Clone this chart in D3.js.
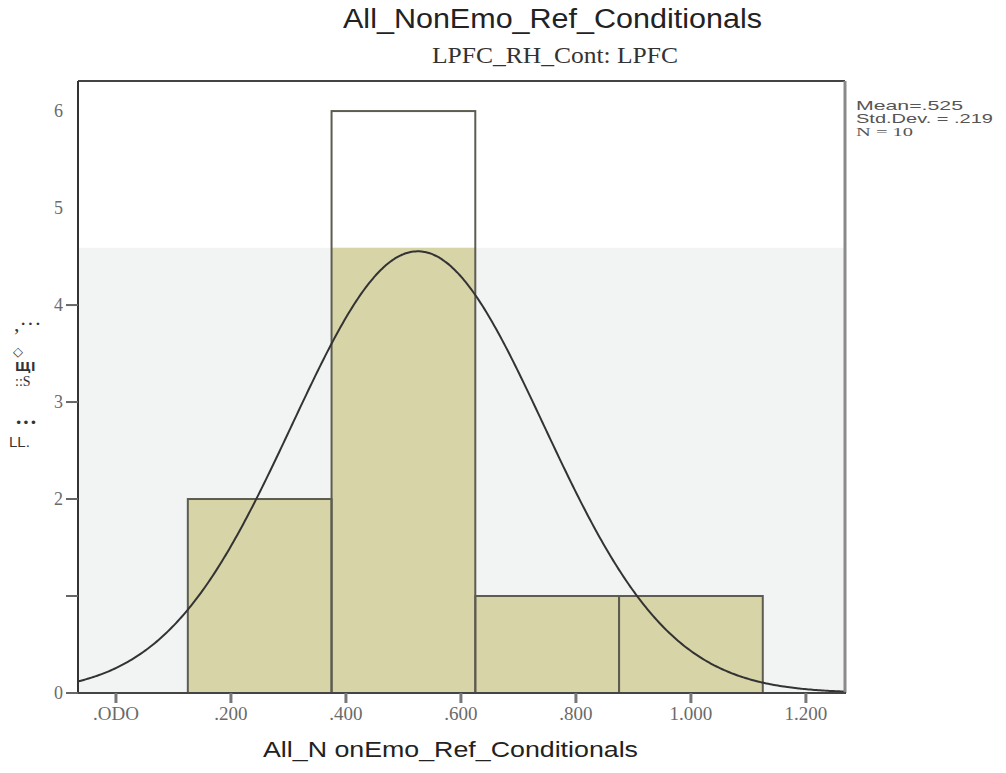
<!DOCTYPE html>
<html>
<head>
<meta charset="utf-8">
<script src="https://cdn.jsdelivr.net/npm/d3@7/dist/d3.min.js"></script>
<style>
  html, body { margin: 0; padding: 0; background: #fff; }
  svg { display: block; }
</style>
</head>
<body>
<svg id="chart" width="1006" height="773"></svg>
<script>
// Histogram bins (lower edge, upper edge) and frequencies
const binLower = [0.125, 0.375, 0.625, 0.875];
const binUpper = [0.375, 0.625, 0.875, 1.125];
const counts   = [2, 6, 1, 1];

// Summary statistics printed beside the plot
const meanVal = 0.525;
const sdVal = 0.219;
const nVal = 10;

// Axis ticks and labels
const xTicks = [0, 0.2, 0.4, 0.6, 0.8, 1.0, 1.2];
const xTickLabels = [".ODO", ".200", ".400", ".600", ".800", "1.000", "1.200"];
const yTickMarks = [0, 1, 2, 3, 4];
const yLabelVals = [0, 2, 3, 4, 5, 6];
const yLabelText = ["0", "2", "3", "4", "5", "6"];

// Height below which the panel is shaded
const shadeTop = 4.59;

const svg = d3.select("#chart");
const plotL = 78, plotR = 845, plotT = 81, plotB = 693;

const x = d3.scaleLinear().domain([-0.066, 1.268]).range([plotL, plotR]);
const y = d3.scaleLinear().domain([0, 6.31]).range([plotB, plotT]);

// shaded panel
svg.append("rect")
  .attr("x", plotL).attr("y", y(shadeTop))
  .attr("width", plotR - plotL).attr("height", plotB - y(shadeTop))
  .attr("fill", "#f2f4f4");

svg.append("clipPath").attr("id", "shade")
  .append("rect")
  .attr("x", plotL).attr("y", y(shadeTop))
  .attr("width", plotR - plotL).attr("height", plotB - y(shadeTop));

// bar fills (inside the shaded area)
svg.append("g").attr("clip-path", "url(#shade)")
  .selectAll("rect").data(counts).join("rect")
  .attr("x", (d, i) => x(binLower[i]))
  .attr("y", d => y(d))
  .attr("width", (d, i) => x(binUpper[i]) - x(binLower[i]))
  .attr("height", d => plotB - y(d))
  .attr("fill", "#d7d4a8");

// bar outlines
svg.append("g").selectAll("rect").data(counts).join("rect")
  .attr("x", (d, i) => x(binLower[i]))
  .attr("y", d => y(d))
  .attr("width", (d, i) => x(binUpper[i]) - x(binLower[i]))
  .attr("height", d => plotB - y(d))
  .attr("fill", "none")
  .attr("stroke", "#5c5c50")
  .attr("stroke-width", 2);

// normal curve scaled to the histogram
const binW = binUpper[0] - binLower[0];
const pdf = v => nVal * binW / (sdVal * Math.sqrt(2 * Math.PI)) *
  Math.exp(-0.5 * Math.pow((v - meanVal) / sdVal, 2));
const curvePts = d3.range(0, 401).map(i => {
  const v = x.domain()[0] + (x.domain()[1] - x.domain()[0]) * i / 400;
  return [v, pdf(v)];
});
svg.append("path")
  .datum(curvePts)
  .attr("d", d3.line().x(d => x(d[0])).y(d => y(d[1])).curve(d3.curveBasis))
  .attr("fill", "none")
  .attr("stroke", "#333")
  .attr("stroke-width", 2);

// frame
svg.append("line").attr("x1", plotL).attr("x2", plotR).attr("y1", plotT).attr("y2", plotT)
  .attr("stroke", "#444").attr("stroke-width", 2);
svg.append("line").attr("x1", plotR).attr("x2", plotR).attr("y1", plotT).attr("y2", plotB)
  .attr("stroke", "#8a8a8a").attr("stroke-width", 3);
svg.append("line").attr("x1", plotL).attr("x2", plotL).attr("y1", plotT).attr("y2", plotB + 1)
  .attr("stroke", "#333").attr("stroke-width", 2);
svg.append("line").attr("x1", plotL).attr("x2", plotR + 1).attr("y1", plotB).attr("y2", plotB)
  .attr("stroke", "#444").attr("stroke-width", 2);

// y tick marks and labels
svg.append("g").selectAll("line").data(yTickMarks).join("line")
  .attr("x1", 66).attr("x2", plotL).attr("y1", d => y(d)).attr("y2", d => y(d))
  .attr("stroke", "#666").attr("stroke-width", 2);
svg.append("g").selectAll("text").data(yLabelVals).join("text")
  .attr("x", 63).attr("y", d => y(d)).attr("dy", "0.35em")
  .attr("text-anchor", "end")
  .attr("font-family", "Liberation Serif, serif")
  .attr("font-size", 18).attr("fill", "#6a6a6a")
  .text((d, i) => yLabelText[i]);

// x tick marks and labels
svg.append("g").selectAll("line").data(xTicks).join("line")
  .attr("x1", d => x(d)).attr("x2", d => x(d)).attr("y1", plotB).attr("y2", plotB + 10)
  .attr("stroke", "#777").attr("stroke-width", 3);
svg.append("g").selectAll("text").data(xTicks).join("text")
  .attr("x", d => x(d)).attr("y", 720)
  .attr("text-anchor", "middle")
  .attr("font-family", "Liberation Serif, serif")
  .attr("font-size", 19).attr("fill", "#6a6a6a")
  .text((d, i) => xTickLabels[i]);

// titles
svg.append("text").attr("x", 343).attr("y", 28)
  .attr("font-family", "Liberation Sans, Arial, sans-serif").attr("font-size", 27)
  .attr("textLength", 419).attr("lengthAdjust", "spacingAndGlyphs")
  .attr("fill", "#222").text("All_NonEmo_Ref_Conditionals");
svg.append("text").attr("x", 432).attr("y", 63)
  .attr("font-family", "Liberation Serif, serif").attr("font-size", 24)
  .attr("textLength", 246).attr("lengthAdjust", "spacingAndGlyphs")
  .attr("fill", "#333").text("LPFC_RH_Cont: LPFC");
svg.append("text").attr("x", 263).attr("y", 757)
  .attr("font-family", "Liberation Sans, Arial, sans-serif").attr("font-size", 22)
  .attr("textLength", 375).attr("lengthAdjust", "spacingAndGlyphs")
  .attr("fill", "#222").text("All_N onEmo_Ref_Conditionals");

// statistics box
const stats = svg.append("g").attr("fill", "#555");
stats.append("text").attr("x", 856).attr("y", 110)
  .attr("font-family", "Liberation Sans, Arial, sans-serif").attr("font-size", 13)
  .attr("textLength", 107).attr("lengthAdjust", "spacingAndGlyphs")
  .text("Mean=.525");
stats.append("text").attr("x", 856).attr("y", 123)
  .attr("font-family", "Liberation Sans, Arial, sans-serif").attr("font-size", 13)
  .attr("textLength", 137).attr("lengthAdjust", "spacingAndGlyphs")
  .text("Std.Dev. = .219");
stats.append("text").attr("x", 856).attr("y", 136)
  .attr("font-family", "Liberation Serif, serif").attr("font-size", 13)
  .attr("textLength", 57).attr("lengthAdjust", "spacingAndGlyphs")
  .text("N = " + nVal);

// y axis title
const yt = svg.append("g").attr("fill", "#333");
yt.append("text").attr("x", 14).attr("y", 331)
  .attr("font-family", "Liberation Serif, serif").attr("font-size", 22).text(",···");
yt.append("text").attr("x", 13).attr("y", 356)
  .attr("font-family", "DejaVu Sans, sans-serif").attr("font-size", 13).text("◇");
yt.append("text").attr("x", 15).attr("y", 371)
  .attr("font-family", "DejaVu Sans, sans-serif").attr("font-size", 12)
  .attr("font-weight", "bold").text("ЩI");
yt.append("text").attr("x", 15).attr("y", 386)
  .attr("font-family", "Liberation Serif, serif").attr("font-size", 14).text("::S");
yt.append("text").attr("x", 15).attr("y", 429)
  .attr("font-family", "Liberation Serif, serif").attr("font-size", 22)
  .attr("font-weight", "bold").text("···");
yt.append("text").attr("x", 9).attr("y", 447)
  .attr("font-family", "Liberation Sans, sans-serif").attr("font-size", 15).text("LL.");
</script>
</body>
</html>
